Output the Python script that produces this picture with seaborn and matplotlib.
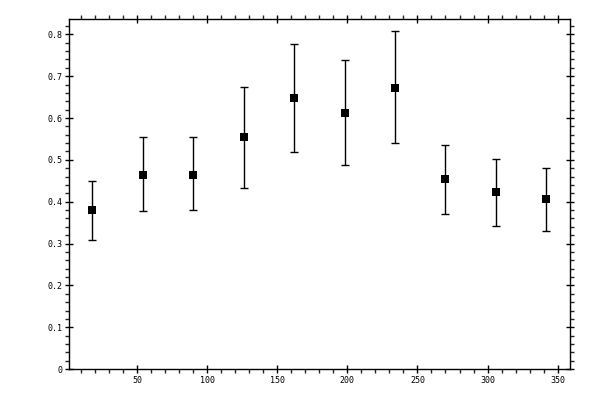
import numpy as np
import pandas as pd
import matplotlib
matplotlib.use("Agg")
import matplotlib.pyplot as plt
from matplotlib.ticker import MultipleLocator, FuncFormatter
import seaborn as sns

# data
x_vals = [18, 54, 90, 126, 162, 198, 234, 270, 306, 342]
y_vals = [0.380, 0.465, 0.465, 0.554, 0.647, 0.613, 0.672, 0.454, 0.423, 0.406]
y_high = [0.449, 0.554, 0.554, 0.673, 0.776, 0.738, 0.809, 0.535, 0.501, 0.480]
y_low = [0.308, 0.377, 0.380, 0.432, 0.518, 0.487, 0.540, 0.370, 0.341, 0.330]

df = pd.DataFrame({"x": x_vals, "y": y_vals, "hi": y_high, "lo": y_low})

sns.set_style("ticks")
plt.rcParams["font.family"] = ["DejaVu Sans Mono", "DejaVu Sans"]

fig = plt.figure(figsize=(6, 4), dpi=100)
ax = fig.add_axes([0.115, 0.077, 0.835, 0.875])

# error bars
ax.errorbar(df["x"], df["y"],
            yerr=[df["y"] - df["lo"], df["hi"] - df["y"]],
            fmt="none", ecolor="black", elinewidth=1.0, capsize=3, capthick=1.0)

# square markers
sns.scatterplot(data=df, x="x", y="y", marker="s", color="black",
                s=30, linewidth=0, ax=ax, zorder=3)

ax.set_xlim(1.5, 358.8)
ax.set_ylim(0, 0.836)
ax.set_xlabel("")
ax.set_ylabel("")

ax.xaxis.set_major_locator(MultipleLocator(50))
ax.xaxis.set_minor_locator(MultipleLocator(10))
ax.yaxis.set_major_locator(MultipleLocator(0.1))
ax.yaxis.set_minor_locator(MultipleLocator(0.02))
ax.yaxis.set_major_formatter(FuncFormatter(lambda v, p: "0" if abs(v) < 1e-9 else f"{v:.1f}"))
ax.xaxis.set_major_formatter(FuncFormatter(lambda v, p: f"{int(round(v))}"))

for s in ax.spines.values():
    s.set_linewidth(1.0)
    s.set_color("black")
    s.set_visible(True)

ax.tick_params(which="major", direction="inout", length=6, width=1.0,
               top=True, right=True, labelsize=6, pad=2, colors="black")
ax.tick_params(which="minor", direction="out", length=2.6, width=1.0,
               top=True, right=True)

fig.savefig("out.png", dpi=100)
